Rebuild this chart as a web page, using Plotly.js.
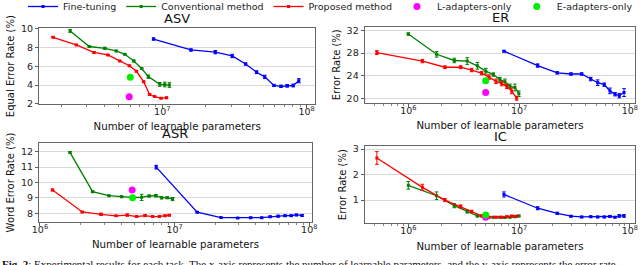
<!DOCTYPE html>
<html><head><meta charset="utf-8">
<script src="https://cdn.plot.ly/plotly-3.0.1.min.js"></script>
<style>html,body{margin:0;padding:0;background:#fff;}#chart{width:640px;height:265px;}</style>
</head><body><div id="chart"></div>
<script>
// ---------- data ----------
// ASV
const asvFtX = [8.7e6, 1.58e7, 2.33e7, 3.05e7, 3.78e7, 4.5e7, 5.13e7, 5.93e7, 6.65e7, 7.33e7, 8.07e7, 8.83e7];
const asvFtY = [8.92, 7.75, 7.52, 7.11, 6.25, 5.37, 4.87, 3.96, 3.86, 3.92, 3.95, 4.46];
const asvFtE = [0.12, 0.12, 0.18, 0.18, 0.12, 0.15, 0.18, 0.12, 0.12, 0.14, 0.15, 0.22];
const asvConvX = [2.3e6, 3.12e6, 4.0e6, 4.8e6, 5.5e6, 6.35e6, 7.2e6, 8.0e6, 9.6e6, 1.04e7, 1.12e7];
const asvConvY = [9.79, 8.12, 7.93, 7.65, 7.29, 6.57, 5.77, 4.9, 4.07, 4.06, 4.0];
const asvConvE = [0.15, 0.06, 0.1, 0.08, 0.06, 0.1, 0.06, 0.18, 0.2, 0.25, 0.25];
const asvPropX = [1.75e6, 2.54e6, 3.36e6, 4.2e6, 5.08e6, 5.92e6, 6.62e6, 7.43e6, 8.17e6, 8.85e6, 9.8e6, 1.07e7];
const asvPropY = [9.11, 8.29, 7.49, 7.22, 6.58, 6.06, 5.47, 4.36, 2.98, 2.76, 2.59, 2.65];
const asvPropE = [0.06, 0.06, 0.08, 0.06, 0.06, 0.06, 0.08, 0.06, 0.08, 0.06, 0.06, 0.06];
const asvLX = [5.9e6], asvLY = [2.75];
const asvEX = [6.0e6], asvEY = [4.82];
// ER
const erFtX = [7.3e6, 1.47e7, 2.21e7, 2.94e7, 3.67e7, 4.43e7, 5.12e7, 5.87e7, 6.61e7, 7.34e7, 8.02e7, 8.85e7];
const erFtY = [28.35, 25.8, 24.5, 24.3, 24.3, 23.4, 22.75, 22.4, 21.3, 20.7, 20.45, 21.0];
const erFtE = [0.15, 0.3, 0.2, 0.2, 0.2, 0.3, 0.5, 0.3, 0.5, 0.3, 0.4, 0.7];
const erConvX = [1e6, 1.8e6, 2.6e6, 3.4e6, 4.2e6, 5.0e6, 5.85e6, 6.71e6, 7.45e6, 8.26e6, 9.17e6, 9.95e6];
const erConvY = [31.4, 27.8, 26.7, 26.6, 25.75, 24.8, 24.2, 23.3, 22.9, 22.1, 21.9, 20.8];
const erConvE = [0.2, 0.5, 0.4, 0.6, 0.6, 0.5, 0.3, 0.4, 0.5, 0.4, 0.6, 0.5];
const erPropX = [5.2e5, 1.34e6, 2.14e6, 2.97e6, 3.73e6, 4.59e6, 5.35e6, 6.19e6, 6.97e6, 7.73e6, 8.57e6, 9.5e6];
const erPropY = [28.1, 26.6, 25.5, 25.5, 25.0, 24.45, 23.75, 23.0, 22.6, 22.1, 21.3, 20.0];
const erPropE = [0.35, 0.3, 0.25, 0.25, 0.3, 0.3, 0.4, 0.4, 0.4, 0.4, 0.5, 0.35];
const erLX = [4.99e6], erLY = [21.0];
const erEX = [4.99e6], erEY = [23.1];
// ASR
const asrFtX = [7.3e6, 1.47e7, 2.21e7, 2.94e7, 3.67e7, 4.43e7, 5.12e7, 5.87e7, 6.61e7, 7.34e7, 8.02e7, 8.85e7];
const asrFtY = [11.0, 8.08, 7.73, 7.70, 7.72, 7.72, 7.78, 7.82, 7.85, 7.85, 7.9, 7.87];
const asrFtE = [0.12, 0.04, 0.03, 0.03, 0.04, 0.04, 0.05, 0.06, 0.05, 0.05, 0.05, 0.06];
const asrConvX = [1.67e6, 2.46e6, 3.25e6, 4.04e6, 4.8e6, 5.69e6, 6.47e6, 7.26e6, 8.0e6, 8.81e6, 9.66e6];
const asrConvY = [11.96, 9.41, 9.15, 9.08, 9.04, 9.04, 9.13, 9.15, 9.02, 9.02, 8.93];
const asrConvE = [0.05, 0.05, 0.04, 0.05, 0.05, 0.2, 0.06, 0.08, 0.08, 0.06, 0.1];
const asrPropX = [1.24e6, 2.06e6, 2.84e6, 3.67e6, 4.45e6, 5.22e6, 6.03e6, 6.87e6, 7.7e6, 8.48e6, 9.12e6];
const asrPropY = [9.52, 8.09, 7.94, 7.84, 7.89, 7.79, 7.86, 7.79, 7.8, 7.85, 7.88];
const asrPropE = [0.06, 0.04, 0.07, 0.03, 0.07, 0.04, 0.07, 0.03, 0.04, 0.04, 0.04];
const asrLX = [4.84e6], asrLY = [9.52];
const asrEX = [4.87e6], asrEY = [9.02];
// IC
const icFtX = [7.3e6, 1.47e7, 2.21e7, 2.94e7, 3.67e7, 4.43e7, 5.12e7, 5.87e7, 6.61e7, 7.34e7, 8.02e7, 8.85e7];
const icFtY = [1.22, 0.68, 0.48, 0.37, 0.34, 0.35, 0.34, 0.34, 0.36, 0.33, 0.38, 0.38];
const icFtE = [0.1, 0.06, 0.04, 0.03, 0.03, 0.03, 0.03, 0.03, 0.04, 0.03, 0.05, 0.05];
const icConvX = [1e6, 1.8e6, 2.6e6, 3.4e6, 4.2e6, 5.0e6, 5.85e6, 6.71e6, 7.45e6, 8.26e6, 9.17e6, 9.95e6];
const icConvY = [1.58, 1.17, 0.78, 0.55, 0.38, 0.33, 0.33, 0.33, 0.32, 0.33, 0.35, 0.38];
const icConvE = [0.15, 0.15, 0.08, 0.06, 0.04, 0.03, 0.03, 0.03, 0.03, 0.03, 0.03, 0.03];
const icPropX = [5.2e5, 1.34e6, 2.14e6, 2.97e6, 3.73e6, 4.59e6, 5.35e6, 6.19e6, 6.97e6, 7.73e6, 8.57e6, 9.5e6];
const icPropY = [2.65, 1.5, 1.0, 0.75, 0.55, 0.38, 0.33, 0.33, 0.33, 0.35, 0.37, 0.37];
const icPropE = [0.25, 0.12, 0.06, 0.06, 0.05, 0.04, 0.03, 0.03, 0.03, 0.03, 0.04, 0.03];
const icLX = [4.99e6], icLY = [0.33];
const icEX = [5.0e6], icEY = [0.42];

const seriesNames = ['Fine-tuning', 'Conventional method', 'Proposed method', 'L-adapters-only', 'E-adapters-only'];
const panelTitles = ['ASV', 'ER', 'ASR', 'IC'];
const yTitles = ['Equal Error Rate (%)', 'Error Rate (%)', 'Word Error Rate (%)', 'Error Rate (%)'];
const xTitle = 'Number of learnable parameters';
const decadeVals = [1e5, 1e6, 1e7, 1e8];
const decadeText = ['10<sup>5</sup>', '10<sup>6</sup>', '10<sup>7</sup>', '10<sup>8</sup>'];
const asvYTicks = [2, 4, 6, 8, 10];
const erYTicks = [20, 24, 28, 32];
const asrYTicks = [8, 9, 10, 11, 12];
const icYTicks = [1, 2, 3];
const captionText = '<b>Fig. 2</b>: Experimental results for each task. The x-axis represents the number of learnable parameters, and the y-axis represents the error rate.';

// ---------- build ----------
const BLUE = '#0000ff', GREEN = '#008000', RED = '#ff0000', MAG = '#ff00ff', LIME = '#00ee00';
const minorVals = [];
for (let d = 1e5; d < 1e8; d *= 10) for (let k = 2; k <= 9; k++) minorVals.push(k * d);

function line(x, y, e, color, name, ax, show) {
  return {type: 'scatter', mode: 'lines+markers', x: x, y: y, name: name, legendgroup: name,
    showlegend: show, xaxis: 'x' + ax, yaxis: 'y' + ax,
    line: {color: color, width: 1.3}, marker: {color: color, size: 3, symbol: 'square'},
    error_y: {type: 'data', array: e, visible: true, color: color, thickness: 1, width: 1.8}};
}
function dot(x, y, color, name, ax, show) {
  return {type: 'scatter', mode: 'markers', x: x, y: y, name: name, legendgroup: name,
    showlegend: show, xaxis: 'x' + ax, yaxis: 'y' + ax, marker: {color: color, size: 7}};
}
const panels = [
  [asvFtX, asvFtY, asvFtE, asvConvX, asvConvY, asvConvE, asvPropX, asvPropY, asvPropE, asvLX, asvLY, asvEX, asvEY],
  [erFtX, erFtY, erFtE, erConvX, erConvY, erConvE, erPropX, erPropY, erPropE, erLX, erLY, erEX, erEY],
  [asrFtX, asrFtY, asrFtE, asrConvX, asrConvY, asrConvE, asrPropX, asrPropY, asrPropE, asrLX, asrLY, asrEX, asrEY],
  [icFtX, icFtY, icFtE, icConvX, icConvY, icConvE, icPropX, icPropY, icPropE, icLX, icLY, icEX, icEY]
];
const data = [];
panels.forEach((p, i) => {
  const ax = i === 0 ? '' : String(i + 1);
  const show = i === 0;
  data.push(line(p[0], p[1], p[2], BLUE, seriesNames[0], ax, show));
  data.push(line(p[3], p[4], p[5], GREEN, seriesNames[1], ax, show));
  data.push(line(p[6], p[7], p[8], RED, seriesNames[2], ax, show));
  data.push(dot(p[9], p[10], MAG, seriesNames[3], ax, show));
  data.push(dot(p[11], p[12], LIME, seriesNames[4], ax, show));
});

const W = 640, H = 265;
// plot boxes in pixels: [left, right, top, bottom]
const boxes = [[39.3, 315, 28.3, 104], [365, 635, 26.7, 102.7], [39.3, 311.7, 143.3, 221.7], [365, 635, 146, 223.3]];
const xRanges = [[6.148, 8.058], [5.609, 8.046], [5.995, 8.018], [5.609, 8.046]];
const yRanges = [[1.97, 10.07], [19.2, 32.7], [7.46, 12.55], [0.09, 3.12]];
const yTickSets = [asvYTicks, erYTicks, asrYTicks, icYTicks];

const layout = {
  width: W, height: H, margin: {l: 0, r: 0, t: 0, b: 0},
  paper_bgcolor: '#fff', plot_bgcolor: '#fff',
  font: {family: 'DejaVu Sans', color: '#222', size: 10},
  showlegend: true,
  legend: {orientation: 'h', x: 0.036, xanchor: 'left', y: 1, yanchor: 'top',
    font: {size: 9.5, color: '#222'}, bgcolor: 'rgba(0,0,0,0)', itemwidth: 30, tracegroupgap: 0},
  annotations: []
};
boxes.forEach((b, i) => {
  const ax = i === 0 ? '' : String(i + 1);
  const xd = [b[0] / W, b[1] / W];
  const yd = [1 - b[3] / H, 1 - b[2] / H];
  layout['xaxis' + ax] = {type: 'log', domain: xd, range: xRanges[i], anchor: 'y' + ax,
    tickmode: 'array', tickvals: decadeVals, ticktext: decadeText,
    ticks: 'outside', ticklen: 3.5, tickwidth: 0.8, tickcolor: '#333', ticklabelstandoff: -5,
    minor: {tickmode: 'array', tickvals: minorVals, ticks: 'outside', ticklen: 2, tickwidth: 0.6, tickcolor: '#333', showgrid: false},
    showgrid: false, showline: true, mirror: true, linecolor: '#555', linewidth: 0.9, zeroline: false,
    tickfont: {size: 9.5, color: '#222'}, automargin: false,
    title: {text: xTitle, font: {size: 10.2, color: '#111'}, standoff: 7}};
  layout['yaxis' + ax] = {domain: yd, range: yRanges[i], anchor: 'x' + ax,
    tickmode: 'array', tickvals: yTickSets[i], ticks: 'outside', ticklen: 3.5, tickwidth: 0.8, tickcolor: '#333',
    showgrid: true, gridcolor: '#d9d9d9', gridwidth: 1, showline: true, mirror: true, linecolor: '#555', linewidth: 0.9,
    zeroline: false, tickfont: {size: 9.5, color: '#222'}, automargin: false,
    title: {text: yTitles[i], font: {size: 10, color: '#111'}, standoff: 4}};
  layout.annotations.push({text: panelTitles[i], xref: 'paper', yref: 'paper',
    x: (xd[0] + xd[1]) / 2, y: yd[1], yanchor: 'bottom', xanchor: 'center', yshift: 0,
    showarrow: false, font: {size: 13, color: '#111'}});
});
layout.annotations.push({text: captionText,
  xref: 'paper', yref: 'paper', x: 0, y: (H - 256) / H, xanchor: 'left', yanchor: 'top', showarrow: false,
  font: {family: 'Liberation Serif', size: 11, color: '#111'}});

Plotly.newPlot('chart', data, layout, {displayModeBar: false, staticPlot: true}).then(function (gd) {
  // nudge the legend row up so it sits at the very top edge, as in the reference
  const lg = gd.querySelector('g.legend');
  if (lg) {
    const t = lg.getAttribute('transform') || '';
    const m = t.match(/translate\(\s*([-\d.]+)[ ,]+([-\d.]+)\s*\)/);
    if (m) lg.setAttribute('transform', 'translate(' + m[1] + ',' + (parseFloat(m[2]) - 8) + ')');
  }
});
</script></body></html>
